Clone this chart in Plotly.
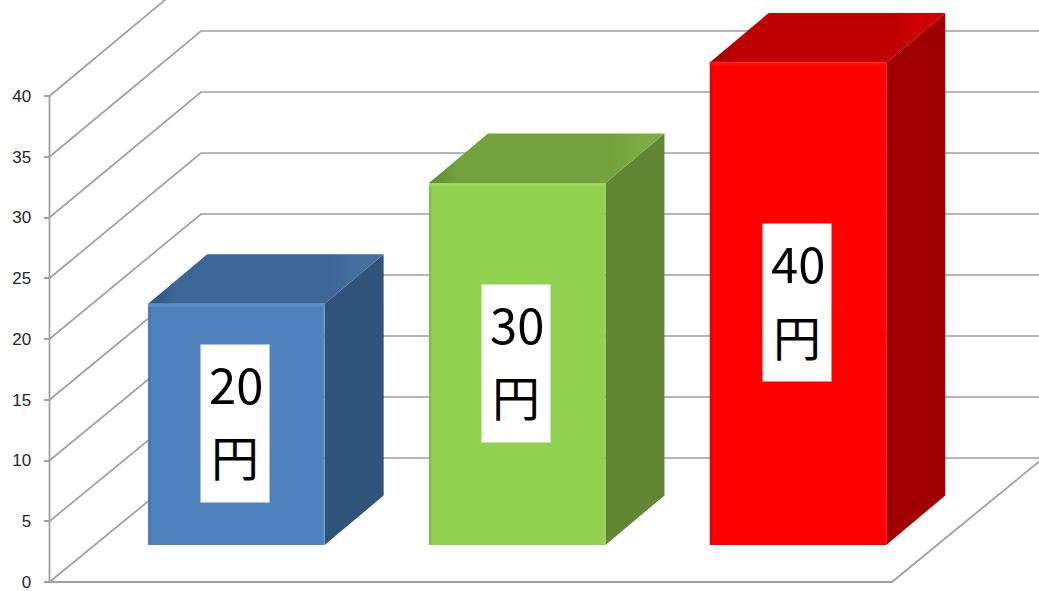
import plotly.graph_objects as go

# ---- data ----
values = [20, 30, 40]
units = ["円", "円", "円"]
tick_values = [0, 5, 10, 15, 20, 25, 30, 35, 40]
tick_labels = ["0", "5", "10", "15", "20", "25", "30", "35", "40"]

front_colors = ["#4F81BD", "#92D050", "#FF0000"]
edge_dark = ["#3F6CA6", "#7DB43F", "#D80000"]
edge_light = ["#5A8CC8", "#9CD85C", "#FF1010"]
top_colors = ["#3D6696", "#74A23E", "#BF0000"]
top_light = ["#44709F", "#7CAB42", "#D00000"]
top_dark = ["#2F5279", "#5F8732", "#A00000"]
side_colors = ["#305379", "#628734", "#A00000"]

# ---- scene scale (pixels per unit) ----
W, H = 1039, 591
PX_X = 280.8
PX_Y = 12.15
WALL_PX = 49.5
ZERO_PX = 582

WALL_DX = 151.5 / PX_X     # depth of chart floor
WALL_DY = 124 / PX_Y
BACK_SCALE = 12.2 / PX_Y   # slight perspective of the back plane
BAR_SCALE = 0.993          # slight perspective of the bar plane
BAR_X_SHIFT = 46.5 / PX_X  # front of each bar relative to front plane
BAR_Y_SHIFT = 37 / PX_Y
BAR_DX = 59 / PX_X         # depth of each bar
BAR_DY = 49.5 / PX_Y
BAR_W = 176.5 / PX_X

GRID = "#A0A0A0"
fig = go.Figure()


def line(xs, ys, width=1.7):
    fig.add_trace(go.Scatter(x=xs, y=ys, mode="lines", hoverinfo="skip",
                             line=dict(color=GRID, width=width), showlegend=False))


def poly(xs, ys, color=None, gradient=None):
    kw = dict(fillcolor=color) if color else dict(fillgradient=gradient)
    fig.add_trace(go.Scatter(x=xs + xs[:1], y=ys + ys[:1], mode="lines", fill="toself",
                             line=dict(width=0), hoverinfo="skip", showlegend=False, **kw))


# grid: wall and back plane
for v in tick_values:
    back = v * BACK_SCALE + WALL_DY
    line([0, WALL_DX, 3 + WALL_DX], [v, back, back])
line([0, 0], [0, max(tick_values)], 1.8)
line([0, 3, 3 + WALL_DX], [0, 0, WALL_DY], 1.8)

# bars
annotations = []
for i, v in enumerate(values):
    x0 = i + 0.5 - 176.5 / PX_X / 2 + BAR_X_SHIFT
    x1 = x0 + BAR_W
    y0 = BAR_Y_SHIFT
    y1 = BAR_Y_SHIFT + v * BAR_SCALE
    # side face
    poly([x1, x1 + BAR_DX, x1 + BAR_DX, x1],
         [y0, y0 + BAR_DY, y1 + BAR_DY, y1], color=side_colors[i])
    # top face
    poly([x0, x1, x1 + BAR_DX, x0 + BAR_DX],
         [y1, y1, y1 + BAR_DY, y1 + BAR_DY],
         gradient=dict(type="horizontal",
                       colorscale=[[0, top_dark[i]], [0.12, top_colors[i]],
                                   [0.78, top_colors[i]], [0.9, top_light[i]],
                                   [1, top_light[i]]]))
    # front face
    poly([x0, x1, x1, x0], [y0, y0, y1, y1],
         gradient=dict(type="horizontal",
                       colorscale=[[0, edge_dark[i]], [0.02, front_colors[i]],
                                   [0.985, front_colors[i]], [1, edge_light[i]]]))
    # bevel along front top edge
    poly([x0, x1, x1, x0], [y1 - 3 / PX_Y, y1 - 3 / PX_Y, y1, y1], color=edge_light[i])

    # label: white box, number, unit
    cx = (x0 + x1) / 2 - 1.5 / PX_X
    cy = (y0 + y1) / 2 + 1 / PX_Y
    annotations.append(dict(x=cx, y=cy, xref="x", yref="y", text=" ", showarrow=False,
                            width=68, height=157, bgcolor="#FFFFFF", borderpad=0,
                            font=dict(size=10)))
    annotations.append(dict(x=cx, y=cy, xref="x", yref="y", text=str(v), showarrow=False,
                            xshift=1, yshift=41, font=dict(size=49, color="#000000",
                                                           family="Noto Sans CJK JP")))
    annotations.append(dict(x=cx, y=cy, xref="x", yref="y", text=units[i], showarrow=False,
                            yshift=-32, font=dict(size=48, color="#000000",
                                                  family="Noto Sans CJK JP")))

fig.update_layout(
    width=W, height=H,
    margin=dict(l=0, r=0, t=0, b=0, autoexpand=False),
    paper_bgcolor="#FFFFFF", plot_bgcolor="#FFFFFF",
    showlegend=False,
    annotations=annotations,
    xaxis=dict(range=[-WALL_PX / PX_X, (W - WALL_PX) / PX_X], visible=False, fixedrange=True),
    yaxis=dict(range=[-(H - ZERO_PX) / PX_Y, ZERO_PX / PX_Y],
               anchor="free", position=WALL_PX / W, side="left", automargin=False,
               tickmode="array", tickvals=tick_values, ticktext=tick_labels,
               ticks="outside", ticklen=6, tickwidth=1.5, tickcolor=GRID,
               ticklabelstandoff=9, ticklabeloverflow="allow",
               showgrid=False, zeroline=False, showline=False, fixedrange=True,
               tickfont=dict(family="Liberation Sans", size=17, color="#262626")),
)

fig.write_html("out.html", config=dict(displayModeBar=False),
               post_script="document.body.style.margin='0';document.documentElement.style.overflow='hidden';")
